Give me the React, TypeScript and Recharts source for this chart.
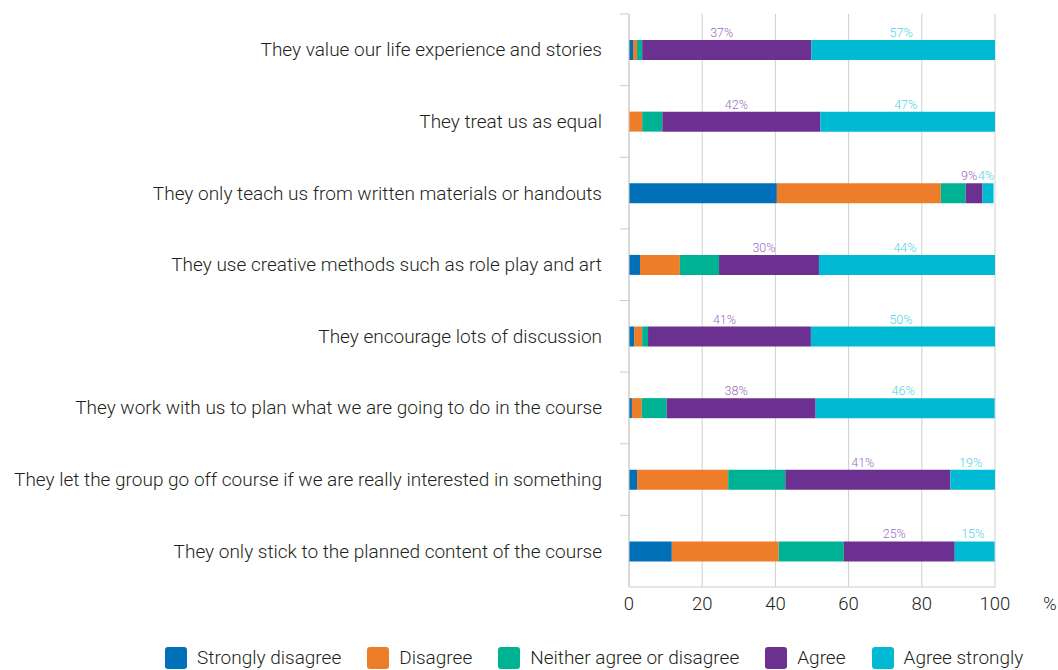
import React from 'react';
import { BarChart, Bar, XAxis, YAxis, CartesianGrid, Legend, LabelList } from 'recharts';

const categories = [
  'They value our life experience and stories',
  'They treat us as equal',
  'They only teach us from written materials or handouts',
  'They use creative methods such as role play and art',
  'They encourage lots of discussion',
  'They work with us to plan what we are going to do in the course',
  'They let the group go off course if we are really interested in something',
  'They only stick to the planned content of the course',
];

const stronglyDisagree = [1.1, 0, 40.4, 3.0, 1.4, 0.8, 2.2, 11.7];
const disagree = [1.1, 3.6, 44.8, 10.9, 2.2, 2.7, 24.9, 29.2];
const neither = [1.4, 5.5, 6.8, 10.7, 1.6, 6.8, 15.6, 17.8];
const agree = [46.2, 43.2, 4.6, 27.3, 44.5, 40.7, 45.1, 30.3];
const agreeStrongly = [50.2, 47.7, 3.0, 48.1, 50.3, 48.9, 12.2, 10.9];

const agreeLabels = ['37%', '42%', '9%', '30%', '41%', '38%', '41%', '25%'];
const agreeStronglyLabels = ['57%', '47%', '4%', '44%', '50%', '46%', '19%', '15%'];

const xTicks = [0, 20, 40, 60, 80, 100];
const xUnit = '%';

const seriesNames = ['Strongly disagree', 'Disagree', 'Neither agree or disagree', 'Agree', 'Agree strongly'];
const seriesKeys = ['sd', 'd', 'n', 'a', 'as'];
const seriesColors = ['#0070b8', '#ee7d2a', '#00b294', '#6c3190', '#00b9d3'];

const data = categories.map((name, i) => ({
  name,
  sd: stronglyDisagree[i],
  d: disagree[i],
  n: neither[i],
  a: agree[i],
  as: agreeStrongly[i],
  aLabel: agreeLabels[i],
  asLabel: agreeStronglyLabels[i],
}));

const FONT = 'Roboto, "Open Sans", sans-serif';
const TEXT = '#231f20';
const CHART_W = 1050;
const CHART_H = 662;
const MARGIN = { top: 6, right: 63, bottom: 53, left: 0 };
const X_AXIS_H = 30;
const Y_AXIS_W = 621;
const PLOT_H = CHART_H - MARGIN.top - MARGIN.bottom - X_AXIS_H;
const BAND = PLOT_H / categories.length;

const YTick = (props: any) => {
  const { x, y, payload } = props;
  const axisX = x + 27;
  const top = y - BAND / 2;
  return (
    <g>
      <line x1={axisX - 9} x2={axisX} y1={top} y2={top} stroke="#cccccc" strokeWidth={1} />
      <text
        x={x}
        y={y}
        textAnchor="end"
        dominantBaseline="central"
        fill={TEXT}
        fontSize={19}
        fontWeight={300}
        fontFamily={FONT}
      >
        {payload.value}
      </text>
    </g>
  );
};

const XTick = (props: any) => {
  const { x, y, payload, index } = props;
  return (
    <g>
      <text
        x={x}
        y={y}
        dy="0.71em"
        textAnchor="middle"
        fill={TEXT}
        fontSize={18.5}
        fontWeight={300}
        fontFamily={FONT}
      >
        {payload.value}
      </text>
      {index === xTicks.length - 1 && (
        <text
          x={x + 48}
          y={y}
          dy="0.71em"
          textAnchor="start"
          fill={TEXT}
          fontSize={18.5}
          fontWeight={300}
          fontFamily={FONT}
        >
          {xUnit}
        </text>
      )}
    </g>
  );
};

const makeBarLabel = (color: string, shift: number) => (props: any) => {
  const { x, y, width, value } = props;
  return (
    <text
      x={x + width / 2 + shift}
      y={y - 3}
      textAnchor="middle"
      fill={color}
      fontSize={12.5}
      fontWeight={300}
      fontFamily={FONT}
    >
      {value}
    </text>
  );
};

const AgreeLabel = makeBarLabel('#9b6bc0', -5);
const StrongLabel = makeBarLabel('#4fd2e4', -2);

const LegendContent = () => (
  <div
    style={{
      display: 'flex',
      alignItems: 'center',
      gap: 26,
      fontFamily: FONT,
      fontSize: 19,
      fontWeight: 300,
      color: TEXT,
      whiteSpace: 'nowrap',
    }}
  >
    {seriesNames.map((n, i) => (
      <div key={n} style={{ display: 'flex', alignItems: 'center', gap: 10 }}>
        <div style={{ width: 22, height: 22, borderRadius: 3, background: seriesColors[i] }} />
        <span>{n}</span>
      </div>
    ))}
  </div>
);

export default function App() {
  return (
    <div style={{ padding: '8px 0 0 8px', width: CHART_W, height: CHART_H }}>
      <style>{'body { margin: 0; } .recharts-surface { overflow: visible; }'}</style>
      <BarChart
        width={CHART_W}
        height={CHART_H}
        data={data}
        layout="vertical"
        margin={MARGIN}
        barCategoryGap={0}
      >
        <CartesianGrid horizontal={false} vertical={true} stroke="#cfcfcf" strokeWidth={1} />
        <XAxis
          type="number"
          domain={[0, 100]}
          ticks={xTicks}
          allowDataOverflow
          height={X_AXIS_H}
          axisLine={{ stroke: '#cccccc' }}
          tickLine={false}
          tickSize={6}
          tickMargin={4}
          interval={0}
          tick={<XTick />}
        />
        <YAxis
          type="category"
          dataKey="name"
          width={Y_AXIS_W}
          axisLine={{ stroke: '#cccccc' }}
          tickLine={false}
          tickSize={0}
          tickMargin={27}
          interval={0}
          tick={<YTick />}
        />
        <Legend
          verticalAlign="middle"
          layout="horizontal"
          wrapperStyle={{ top: 638, left: 157, width: 'auto' }}
          content={<LegendContent />}
        />
        {seriesKeys.map((k, i) => (
          <Bar
            key={k}
            dataKey={k}
            name={seriesNames[i]}
            stackId="s"
            fill={seriesColors[i]}
            barSize={20}
            isAnimationActive={false}
          >
            {k === 'a' && <LabelList dataKey="aLabel" content={AgreeLabel} />}
            {k === 'as' && <LabelList dataKey="asLabel" content={StrongLabel} />}
          </Bar>
        ))}
      </BarChart>
    </div>
  );
}
